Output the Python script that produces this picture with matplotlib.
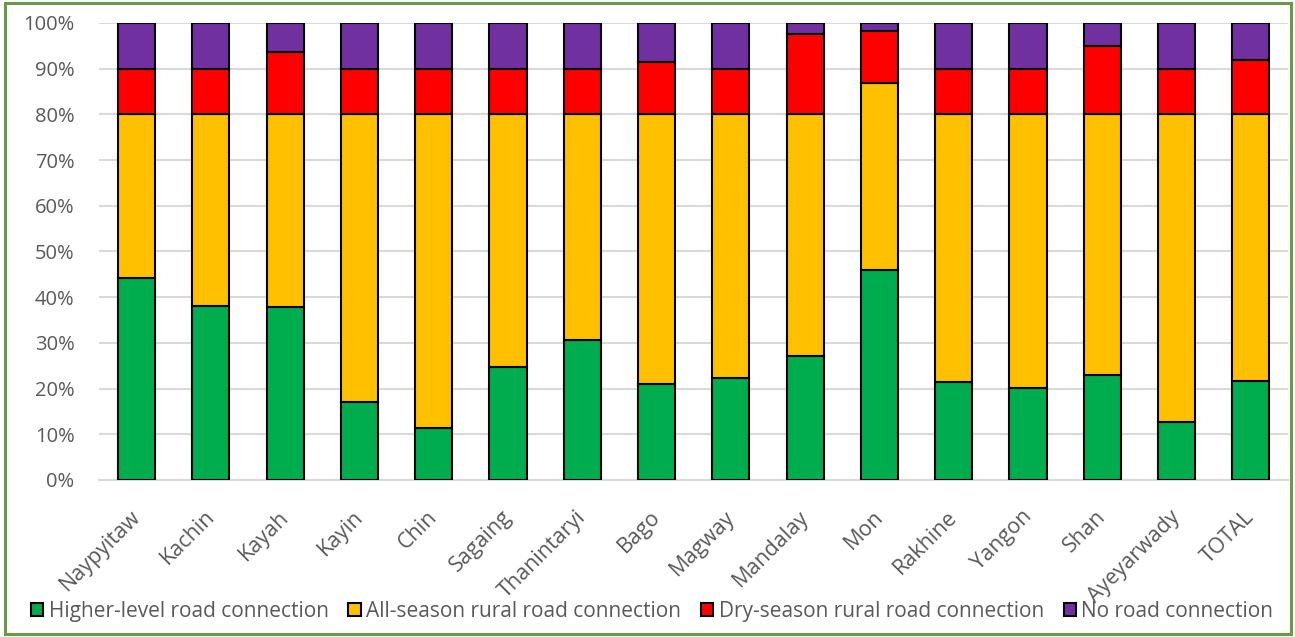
import matplotlib
matplotlib.use("Agg")
import matplotlib.pyplot as plt
from matplotlib.patches import Patch, Rectangle
from matplotlib.transforms import ScaledTranslation
import numpy as np

regions = ["Naypyitaw", "Kachin", "Kayah", "Kayin", "Chin", "Sagaing", "Thanintaryi",
           "Bago", "Magway", "Mandalay", "Mon", "Rakhine", "Yangon", "Shan",
           "Ayeyarwady", "TOTAL"]

# share of villages (%) by type of road connection
higher_level = [44.2, 38.1, 37.8, 17.1, 11.4, 24.7, 30.6, 21.0, 22.3, 27.1, 46.0, 21.4, 20.1, 23.0, 12.7, 21.7]
all_season = [35.8, 41.9, 42.2, 62.9, 68.6, 55.3, 49.4, 59.0, 57.7, 52.9, 40.9, 58.6, 59.9, 57.0, 67.3, 58.4]
dry_season = [10.0, 10.0, 13.6, 10.0, 10.0, 10.0, 10.0, 11.5, 10.0, 17.5, 11.4, 10.0, 10.0, 15.0, 10.0, 11.8]
no_road = [10.0, 10.0, 6.4, 10.0, 10.0, 10.0, 10.0, 8.5, 10.0, 2.5, 1.7, 10.0, 10.0, 5.0, 10.0, 8.1]

series_names = ["Higher-level road connection", "All-season rural road connection",
                "Dry-season rural road connection", "No road connection"]
colors = ["#00AD4E", "#FFC000", "#FF0000", "#7030A0"]

plt.rcParams["font.family"] = ["Open Sans", "DejaVu Sans"]
text_color = "#595959"

fig = plt.figure(figsize=(12.95, 6.37), dpi=100)
ax = fig.add_axes([0.0768, 0.2465, 0.9178, 0.7174])

x = np.arange(len(regions))
bottom = np.zeros(len(regions))
for vals, col in zip([higher_level, all_season, dry_season, no_road], colors):
    ax.bar(x, vals, width=0.5, bottom=bottom, color=col, edgecolor="black",
           linewidth=1.5, zorder=3)
    bottom += np.array(vals)

ax.set_xlim(-0.5, len(regions) - 0.5)
ax.set_ylim(0, 100)
ax.set_yticks(np.arange(0, 101, 10))
ax.set_yticklabels([f"{v}%" for v in range(0, 101, 10)])
ax.yaxis.grid(True, color="#D9D9D9", linewidth=1.5, zorder=0)
ax.set_axisbelow(True)
for s in ["top", "right", "left"]:
    ax.spines[s].set_visible(False)
ax.spines["bottom"].set_color("#D9D9D9")
ax.spines["bottom"].set_linewidth(1.5)

ax.set_xticks(x)
ax.set_xticklabels(regions, rotation=45, ha="right")
ax.tick_params(axis="x", length=0, pad=19, labelsize=15.5, labelcolor=text_color)
ax.tick_params(axis="y", length=0, pad=18, labelsize=14.5, labelcolor=text_color)
shift = ScaledTranslation(0.08, 0, fig.dpi_scale_trans)
for lbl in ax.get_xticklabels():
    lbl.set_transform(lbl.get_transform() + shift)

handles = [Patch(facecolor=c, edgecolor="black", linewidth=1.5) for c in colors]
leg = fig.legend(handles, series_names, loc="center", bbox_to_anchor=(0.5035, 0.040),
                 ncol=4, frameon=False, fontsize=15, labelcolor=text_color,
                 handlelength=0.6, handleheight=0.6, handletextpad=0.25,
                 columnspacing=0.95, borderaxespad=0)

# figure frame
fig.patches.append(Rectangle((0.004, 0.005), 0.993, 0.99, transform=fig.transFigure,
                             fill=False, edgecolor="#6A9A46", linewidth=2.2))

fig.savefig("out.png", dpi=100)
